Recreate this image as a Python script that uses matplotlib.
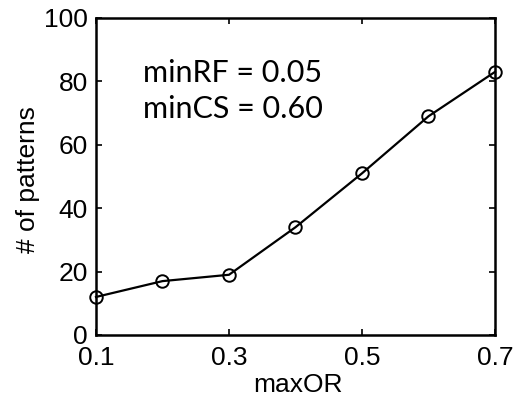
import matplotlib.pyplot as plt

# data
max_or = [0.1, 0.2, 0.3, 0.4, 0.5, 0.6, 0.7]
num_patterns = [12, 17, 19, 34, 51, 69, 83]
x_ticks = [0.1, 0.3, 0.5, 0.7]
y_ticks = [0, 20, 40, 60, 80, 100]

plt.rcParams['font.family'] = ['Liberation Sans', 'DejaVu Sans']

fig = plt.figure(figsize=(5.24, 4.04), dpi=100)
ax = fig.add_axes([96 / 524, 1 - 335 / 404, 399 / 524, 317 / 404])

ax.plot(max_or, num_patterns, color='black', linewidth=1.6,
        marker='o', markersize=9, markerfacecolor='none',
        markeredgecolor='black', markeredgewidth=1.4, clip_on=False)

ax.set_xlim(0.1, 0.7)
ax.set_ylim(0, 100)
ax.set_xticks(x_ticks)
ax.set_xticklabels(['0.1', '0.3', '0.5', '0.7'])
ax.set_yticks(y_ticks)
ax.tick_params(direction='in', length=4, width=1.2, labelsize=19,
               top=True, right=True)
ax.tick_params(axis='x', pad=8)
ax.tick_params(axis='y', pad=6)
for s in ax.spines.values():
    s.set_linewidth(1.8)

ax.set_xlabel('maxOR', fontsize=19)
ax.xaxis.set_label_coords(0.505, -0.12)
ax.set_ylabel('# of patterns', fontsize=19)
ax.yaxis.set_label_coords(-0.14, 0.49)

ax.text(0.1 + 0.6 * 0.118, 87, 'minRF = 0.05\nminCS = 0.60', fontsize=22,
        family=['Lato', 'DejaVu Sans'], va='top', ha='left', linespacing=1.35)

fig.savefig('out.png', dpi=100)
